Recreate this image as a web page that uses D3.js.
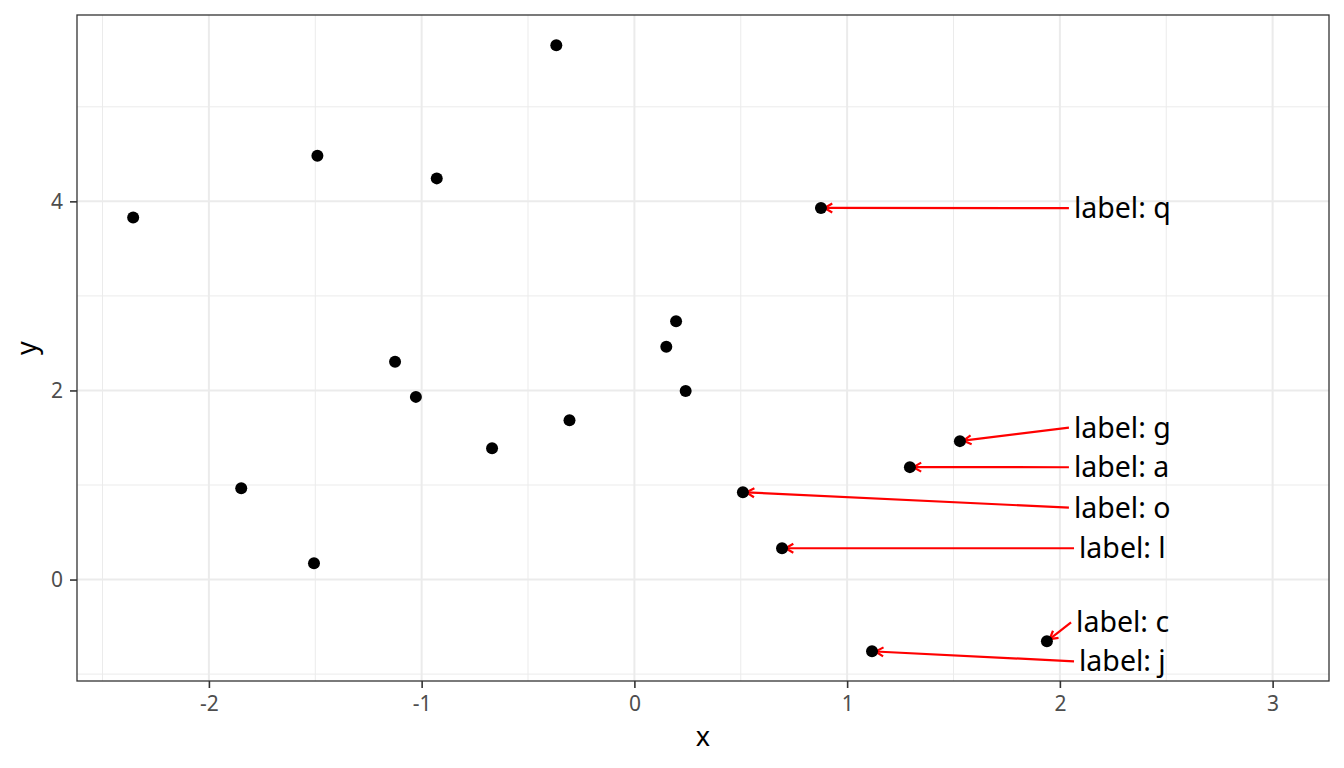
<!DOCTYPE html>
<html>
<head>
<meta charset="utf-8">
<script src="https://cdn.jsdelivr.net/npm/d3@7"></script>
<style>
  body { margin: 0; background: #fff; }
  text { font-family: "Noto Sans", "Open Sans", sans-serif; }
</style>
</head>
<body>
<svg id="chart" width="1344" height="768"></svg>
<script>
// Point data
const xs = [-2.356, -1.490, -0.929, -0.367, -1.125, -1.027, -0.305, 0.196, 0.150, 0.241,
            -0.669, -1.848, -1.506, 0.877, 1.530, 1.295, 0.510, 0.694, 1.939, 1.117];
const ys = [3.828, 4.483, 4.243, 5.650, 2.303, 1.932, 1.686, 2.733, 2.461, 1.993,
            1.389, 0.966, 0.173, 3.930, 1.464, 1.189, 0.924, 0.331, -0.653, -0.759];

// Labelled points (index into xs/ys) and where their labels sit
const labelText = ['label: q', 'label: g', 'label: a', 'label: o', 'label: l', 'label: c', 'label: j'];
const labelPoint = [13, 14, 15, 16, 17, 18, 19];
const labelX = [2.066, 2.066, 2.066, 2.066, 2.090, 2.076, 2.090];
const labelY = [3.929, 1.606, 1.188, 0.760, 0.331, -0.452, -0.865];

// Axis ticks
const xTicks = [-2, -1, 0, 1, 2, 3];
const xMinor = [-2.5, -1.5, -0.5, 0.5, 1.5, 2.5];
const yTicks = [0, 2, 4];
const yMinor = [-1, 1, 3, 5];

const margin = { left: 77, right: 15, top: 15, bottom: 87 };
const width = 1344, height = 768;

const svg = d3.select('#chart');

const x = d3.scaleLinear().domain([-2.620, 3.265]).range([margin.left, width - margin.right]);
const y = d3.scaleLinear().domain([-1.073, 5.971]).range([height - margin.bottom, margin.top]);

const panel = svg.append('g');

// Grid
panel.selectAll('.xminor').data(xMinor).enter().append('line')
    .attr('x1', d => x(d)).attr('x2', d => x(d))
    .attr('y1', y.range()[0]).attr('y2', y.range()[1])
    .attr('stroke', '#ebebeb').attr('stroke-width', 1);
panel.selectAll('.yminor').data(yMinor).enter().append('line')
    .attr('y1', d => y(d)).attr('y2', d => y(d))
    .attr('x1', x.range()[0]).attr('x2', x.range()[1])
    .attr('stroke', '#ebebeb').attr('stroke-width', 1);
panel.selectAll('.xmajor').data(xTicks).enter().append('line')
    .attr('x1', d => x(d)).attr('x2', d => x(d))
    .attr('y1', y.range()[0]).attr('y2', y.range()[1])
    .attr('stroke', '#ebebeb').attr('stroke-width', 2);
panel.selectAll('.ymajor').data(yTicks).enter().append('line')
    .attr('y1', d => y(d)).attr('y2', d => y(d))
    .attr('x1', x.range()[0]).attr('x2', x.range()[1])
    .attr('stroke', '#ebebeb').attr('stroke-width', 2);

// Axes
const xAxis = svg.append('g')
    .attr('transform', `translate(0,${y.range()[0]})`)
    .call(d3.axisBottom(x).tickValues(xTicks).tickSize(7).tickPadding(8).tickFormat(d => String(d)));
const yAxis = svg.append('g')
    .attr('transform', `translate(${x.range()[0]},0)`)
    .call(d3.axisLeft(y).tickValues(yTicks).tickSize(7).tickPadding(7).tickFormat(d => String(d)));
[xAxis, yAxis].forEach(a => {
    a.attr('font-family', null).attr('font-size', null);
    a.select('.domain').remove();
    a.selectAll('.tick line').attr('stroke', '#333').attr('stroke-width', 1.6);
    a.selectAll('.tick text').attr('fill', '#4d4d4d').style('font-size', '21px');
});

// Panel border
svg.append('rect')
    .attr('x', x.range()[0]).attr('y', y.range()[1])
    .attr('width', x.range()[1] - x.range()[0])
    .attr('height', y.range()[0] - y.range()[1])
    .attr('fill', 'none').attr('stroke', '#333').attr('stroke-width', 1.3);

// Axis titles
svg.append('text')
    .attr('x', (x.range()[0] + x.range()[1]) / 2).attr('y', 746)
    .attr('text-anchor', 'middle').style('font-size', '27px').text('x');
svg.append('text')
    .attr('transform', `translate(36,${(y.range()[0] + y.range()[1]) / 2}) rotate(-90)`)
    .attr('text-anchor', 'middle').style('font-size', '27px').text('y');

// Label segments with open arrowheads
const segs = svg.append('g');
labelText.forEach((t, i) => {
    const px = x(xs[labelPoint[i]]), py = y(ys[labelPoint[i]]);
    const sx = x(labelX[i]) - 5, sy = y(labelY[i]);
    const ang = Math.atan2(sy - py, sx - px);
    const tipX = px + Math.cos(ang) * 3.5, tipY = py + Math.sin(ang) * 3.5;
    segs.append('line')
        .attr('x1', sx).attr('y1', sy).attr('x2', tipX).attr('y2', tipY)
        .attr('stroke', 'red').attr('stroke-width', 2.2);
    const head = 9, spread = Math.PI / 6;
    segs.append('path')
        .attr('d', `M${tipX + Math.cos(ang + spread) * head},${tipY + Math.sin(ang + spread) * head}` +
                   `L${tipX},${tipY}` +
                   `L${tipX + Math.cos(ang - spread) * head},${tipY + Math.sin(ang - spread) * head}`)
        .attr('fill', 'none').attr('stroke', 'red').attr('stroke-width', 2.2);
});

// Points
svg.append('g').selectAll('circle')
    .data(d3.range(xs.length))
    .enter().append('circle')
    .attr('cx', i => x(xs[i]))
    .attr('cy', i => y(ys[i]))
    .attr('r', 6)
    .attr('fill', '#000');

// Labels
svg.append('g').selectAll('text')
    .data(labelText)
    .enter().append('text')
    .attr('x', (d, i) => x(labelX[i]))
    .attr('y', (d, i) => y(labelY[i]))
    .attr('dy', '0.35em')
    .style('font-size', '28.5px')
    .attr('fill', '#000')
    .text(d => d);
</script>
</body>
</html>
